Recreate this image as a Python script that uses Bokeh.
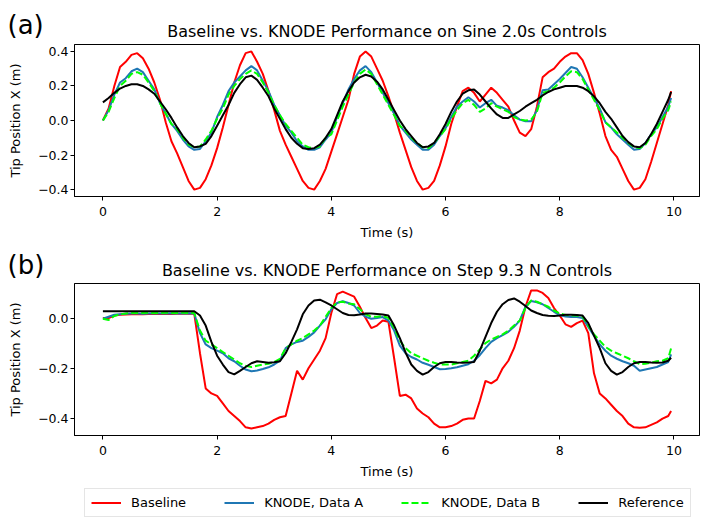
from bokeh.plotting import figure
from bokeh.layouts import column
from bokeh.models import (Range1d, Legend, LegendItem, CustomJSTickFormatter, FixedTicker)
from bokeh.core.properties import value
from bokeh.embed import file_html
from bokeh.resources import INLINE

FONT = "DejaVu Sans"

# ---------------- data ----------------
TIME = [i / 10 for i in range(100)] + [9.95]

TITLE_A = "Baseline vs. KNODE Performance on Sine 2.0s Controls"
TITLE_B = "Baseline vs. KNODE Performance on Step 9.3 N Controls"
SERIES = ["Baseline", "KNODE, Data A", "KNODE, Data B", "Reference"]
X_TICKS = [0, 2, 4, 6, 8, 10]
Y_TICKS_A = [-0.4, -0.2, 0.0, 0.2, 0.4]
Y_TICKS_B = [-0.4, -0.2, 0.0]

sine_baseline = [
    0.00, 0.07, 0.20, 0.31, 0.34, 0.38, 0.39, 0.36, 0.30, 0.22,
    0.12, -0.01, -0.12, -0.19, -0.27, -0.35, -0.40, -0.39, -0.34, -0.26,
    -0.16, -0.04, 0.09, 0.22, 0.32, 0.39, 0.40, 0.34, 0.27, 0.17,
    0.06, -0.06, -0.14, -0.21, -0.28, -0.35, -0.39, -0.40, -0.35, -0.28,
    -0.18, -0.08, 0.02, 0.12, 0.27, 0.37, 0.40, 0.37, 0.30, 0.23,
    0.14, 0.04, -0.07, -0.17, -0.27, -0.35, -0.40, -0.39, -0.35, -0.26,
    -0.15, -0.02, 0.08, 0.17, 0.19, 0.16, 0.11, 0.15, 0.19, 0.16,
    0.12, 0.08, 0.00, -0.07, -0.09, -0.05, 0.08, 0.25, 0.28, 0.30,
    0.34, 0.37, 0.39, 0.39, 0.35, 0.27, 0.16, 0.04, -0.09, -0.17,
    -0.21, -0.28, -0.35, -0.40, -0.39, -0.34, -0.24, -0.13, -0.02, 0.09,
    0.17,
]
sine_knode_a = [
    0.00, 0.06, 0.15, 0.22, 0.245, 0.285, 0.30, 0.28, 0.23, 0.18,
    0.10, 0.04, -0.02, -0.06, -0.11, -0.15, -0.17, -0.165, -0.12, -0.07,
    0.02, 0.09, 0.17, 0.22, 0.255, 0.29, 0.315, 0.29, 0.23, 0.17,
    0.09, 0.03, -0.03, -0.07, -0.12, -0.15, -0.17, -0.17, -0.155, -0.11,
    -0.07, 0.02, 0.10, 0.18, 0.24, 0.29, 0.315, 0.28, 0.22, 0.16,
    0.10, 0.04, -0.03, -0.07, -0.11, -0.14, -0.17, -0.17, -0.14, -0.09,
    -0.045, 0.02, 0.08, 0.11, 0.135, 0.11, 0.075, 0.10, 0.12, 0.085,
    0.075, 0.06, 0.03, 0.005, -0.005, -0.005, 0.06, 0.175, 0.18, 0.21,
    0.24, 0.275, 0.31, 0.30, 0.25, 0.19, 0.13, 0.07, -0.01, -0.04,
    -0.08, -0.11, -0.14, -0.17, -0.165, -0.13, -0.08, -0.04, 0.02, 0.08,
    0.13,
]
sine_knode_b = [
    0.00, 0.05, 0.13, 0.20, 0.23, 0.27, 0.28, 0.265, 0.22, 0.17,
    0.10, 0.04, -0.02, -0.05, -0.10, -0.14, -0.155, -0.15, -0.11, -0.06,
    0.01, 0.07, 0.15, 0.20, 0.24, 0.27, 0.29, 0.27, 0.22, 0.16,
    0.09, 0.03, -0.02, -0.06, -0.10, -0.14, -0.155, -0.16, -0.15, -0.10,
    -0.08, 0.00, 0.08, 0.15, 0.22, 0.27, 0.295, 0.27, 0.21, 0.15,
    0.09, 0.03, -0.03, -0.06, -0.10, -0.13, -0.155, -0.16, -0.13, -0.09,
    -0.05, 0.01, 0.06, 0.10, 0.12, 0.09, 0.05, 0.07, 0.10, 0.08,
    0.065, 0.05, 0.02, 0.005, 0.00, 0.005, 0.05, 0.16, 0.17, 0.19,
    0.22, 0.255, 0.285, 0.28, 0.24, 0.18, 0.12, 0.06, -0.01, -0.04,
    -0.07, -0.10, -0.13, -0.155, -0.16, -0.14, -0.09, -0.05, 0.01, 0.06,
    0.11,
]
sine_reference = [
    0.105, 0.13, 0.16, 0.185, 0.20, 0.21, 0.21, 0.20, 0.18, 0.155,
    0.11, 0.065, 0.015, -0.04, -0.09, -0.13, -0.155, -0.15, -0.135, -0.09,
    -0.03, 0.03, 0.09, 0.16, 0.21, 0.25, 0.26, 0.235, 0.19, 0.14,
    0.07, 0.01, -0.05, -0.10, -0.135, -0.16, -0.165, -0.16, -0.14, -0.10,
    -0.05, 0.03, 0.11, 0.17, 0.22, 0.25, 0.265, 0.255, 0.225, 0.18,
    0.12, 0.06, 0.00, -0.05, -0.09, -0.13, -0.155, -0.15, -0.13, -0.08,
    -0.02, 0.05, 0.11, 0.155, 0.175, 0.18, 0.15, 0.11, 0.07, 0.035,
    0.015, 0.015, 0.035, 0.055, 0.08, 0.10, 0.12, 0.145, 0.165, 0.18,
    0.19, 0.20, 0.20, 0.20, 0.19, 0.17, 0.14, 0.10, 0.05, 0.01,
    -0.04, -0.09, -0.125, -0.15, -0.155, -0.13, -0.08, -0.02, 0.05, 0.12,
    0.165,
]

step_baseline = [
    0.000, 0.000, 0.010, 0.013, 0.014, 0.015, 0.015, 0.015, 0.016, 0.016,
    0.016, 0.016, 0.016, 0.017, 0.017, 0.017, 0.017, -0.14, -0.28, -0.30,
    -0.31, -0.34, -0.37, -0.39, -0.41, -0.435, -0.44, -0.435, -0.43, -0.42,
    -0.405, -0.395, -0.39, -0.30, -0.21, -0.245, -0.20, -0.165, -0.13, -0.08,
    0.02, 0.095, 0.105, 0.095, 0.085, 0.045, 0.00, -0.04, -0.03, -0.01,
    -0.015, -0.16, -0.31, -0.305, -0.32, -0.36, -0.38, -0.395, -0.42, -0.435,
    -0.435, -0.43, -0.42, -0.405, -0.40, -0.40, -0.33, -0.25, -0.26, -0.245,
    -0.20, -0.17, -0.12, -0.05, 0.045, 0.11, 0.11, 0.10, 0.08, 0.04,
    0.01, -0.025, -0.035, -0.02, -0.01, -0.06, -0.22, -0.30, -0.32, -0.345,
    -0.37, -0.39, -0.42, -0.435, -0.437, -0.435, -0.425, -0.415, -0.40, -0.39,
    -0.37,
]
step_knode_a = [
    -0.003, 0.005, 0.013, 0.015, 0.017, 0.018, 0.018, 0.017, 0.018, 0.019,
    0.018, 0.018, 0.019, 0.018, 0.018, 0.019, 0.018, -0.06, -0.105, -0.12,
    -0.13, -0.14, -0.16, -0.172, -0.19, -0.205, -0.212, -0.209, -0.203, -0.196,
    -0.185, -0.17, -0.12, -0.105, -0.095, -0.09, -0.075, -0.057, -0.03, -0.005,
    0.035, 0.06, 0.067, 0.06, 0.05, 0.02, 0.005, -0.003, 0.00, 0.004,
    -0.01, -0.05, -0.11, -0.14, -0.155, -0.165, -0.178, -0.186, -0.195, -0.204,
    -0.203, -0.20, -0.196, -0.19, -0.184, -0.17, -0.148, -0.12, -0.095, -0.08,
    -0.068, -0.055, -0.035, -0.01, 0.045, 0.068, 0.063, 0.055, 0.04, 0.025,
    0.012, 0.006, 0.004, 0.004, 0.00, -0.035, -0.07, -0.105, -0.13, -0.15,
    -0.162, -0.172, -0.18, -0.19, -0.21, -0.205, -0.20, -0.195, -0.185, -0.175,
    -0.145,
]
step_knode_b = [
    -0.003, -0.008, 0.008, 0.015, 0.018, 0.02, 0.02, 0.02, 0.021, 0.02,
    0.02, 0.021, 0.02, 0.02, 0.021, 0.02, 0.02, -0.05, -0.09, -0.105,
    -0.12, -0.135, -0.15, -0.165, -0.18, -0.19, -0.195, -0.19, -0.185, -0.182,
    -0.175, -0.162, -0.12, -0.105, -0.09, -0.08, -0.065, -0.05, -0.03, 0.005,
    0.04, 0.062, 0.065, 0.058, 0.055, 0.035, 0.015, 0.005, 0.005, 0.008,
    0.00, -0.04, -0.09, -0.12, -0.14, -0.15, -0.16, -0.17, -0.178, -0.185,
    -0.185, -0.185, -0.18, -0.175, -0.17, -0.15, -0.125, -0.10, -0.085, -0.075,
    -0.065, -0.05, -0.03, -0.01, 0.04, 0.07, 0.065, 0.055, 0.045, 0.03,
    0.018, 0.012, 0.01, 0.01, 0.005, -0.03, -0.065, -0.09, -0.115, -0.13,
    -0.14, -0.15, -0.16, -0.172, -0.183, -0.182, -0.178, -0.172, -0.17, -0.16,
    -0.12,
]
step_reference = [
    0.027, 0.027, 0.027, 0.027, 0.027, 0.027, 0.027, 0.027, 0.027, 0.027,
    0.027, 0.027, 0.027, 0.027, 0.027, 0.027, 0.027, 0.01, -0.03, -0.095,
    -0.15, -0.185, -0.215, -0.224, -0.21, -0.195, -0.18, -0.172, -0.175, -0.178,
    -0.176, -0.172, -0.14, -0.095, -0.045, 0.015, 0.05, 0.07, 0.073, 0.062,
    0.05, 0.035, 0.02, 0.012, 0.011, 0.014, 0.018, 0.018, 0.016, 0.014,
    0.01, -0.03, -0.08, -0.137, -0.185, -0.21, -0.225, -0.215, -0.195, -0.18,
    -0.175, -0.175, -0.177, -0.178, -0.177, -0.175, -0.13, -0.075, -0.02, 0.025,
    0.055, 0.072, 0.078, 0.065, 0.048, 0.03, 0.02, 0.012, 0.009, 0.008,
    0.01, 0.013, 0.013, 0.012, 0.01, -0.02, -0.07, -0.12, -0.18, -0.21,
    -0.225, -0.215, -0.195, -0.18, -0.175, -0.175, -0.177, -0.178, -0.177, -0.17,
    -0.158,
]

COLORS = ["#ff0000", "#1f77b4", "#00ff00", "#000000"]
DASHES = ["solid", "solid", "7 3", "solid"]

# ---------------- layout ----------------
W = 700
FRAME_L, FRAME_R = 74, 699
FRAME_H = 152

yfmt_code = """
const s = Math.abs(tick).toFixed(1);
return (tick < -1e-9 ? "\\u2212" : "") + s;
"""


def padded(vals):
    lo, hi = min(vals), max(vals)
    pad = 0.05 * (hi - lo)
    return lo - pad, hi + pad


def blank(height):
    p = figure(width=W, height=height, output_backend="svg", toolbar_location=None,
               title=None, x_range=Range1d(0, W), y_range=Range1d(height, 0),
               x_axis_type=None, y_axis_type=None, min_border=0,
               min_border_left=0, min_border_right=0, min_border_top=0, min_border_bottom=0)
    p.frame_align = False
    p.outline_line_color = None
    p.grid.visible = False
    return p


def header(height, tag, tag_y, title, title_y):
    p = blank(height)
    p.text(x=[7], y=[tag_y], text=[tag], text_font=value(FONT),
           text_font_size="26px", text_align="left", text_baseline="alphabetic",
           text_color="black")
    p.text(x=[(FRAME_L + FRAME_R) / 2], y=[title_y], text=[title],
           text_font=value(FONT), text_font_size="16px", text_align="center",
           text_baseline="alphabetic", text_color="black")
    return p


def panel(series, yticks, height, top):
    allv = [v for s in series for v in s]
    x0, x1 = padded(TIME)
    y0, y1 = padded(allv)
    p = figure(width=W, height=height, output_backend="svg", toolbar_location=None,
               x_range=Range1d(x0, x1), y_range=Range1d(y0, y1),
               min_border_left=FRAME_L, min_border_right=W - FRAME_R,
               min_border_top=top, min_border_bottom=height - top - FRAME_H)
    p.frame_align = False
    p.grid.visible = False
    p.outline_line_color = "black"
    p.outline_line_width = 1
    p.outline_line_alpha = 1
    for ax in (p.xaxis[0], p.yaxis[0]):
        ax.axis_line_color = "black"
        ax.major_tick_line_color = "black"
        ax.major_tick_in = 0
        ax.major_tick_out = 4
        ax.minor_tick_line_color = None
        ax.major_label_text_font = FONT
        ax.major_label_text_font_size = "12.5px"
        ax.major_label_text_color = "black"
        ax.axis_label_text_font = FONT
        ax.axis_label_text_font_size = "13px"
        ax.axis_label_text_font_style = "normal"
        ax.axis_label_text_color = "black"
    p.xaxis.ticker = FixedTicker(ticks=X_TICKS)
    p.yaxis.ticker = FixedTicker(ticks=yticks)
    p.yaxis.formatter = CustomJSTickFormatter(code=yfmt_code)
    p.xaxis.axis_label = "Time (s)"
    p.yaxis.axis_label = "Tip Position X (m)"
    p.xaxis.major_label_standoff = 6
    p.xaxis.axis_label_standoff = 6
    p.yaxis.major_label_standoff = 2
    p.yaxis.axis_label_standoff = 12
    for vals, col, dash in zip(series, COLORS, DASHES):
        p.line(TIME, vals, line_color=col, line_width=2, line_dash=dash)
    return p


hA = header(40, "(a)", 24, TITLE_A, 30.5)
pA = panel([sine_baseline, sine_knode_a, sine_knode_b, sine_reference], Y_TICKS_A, 205, 4)
hB = header(37, "(b)", 19, TITLE_B, 24.5)
pB = panel([step_baseline, step_knode_a, step_knode_b, step_reference], Y_TICKS_B, 202, 1)

# legend strip: sample renderers carry only the style (one empty point each)
NAN = float("nan")
pL = blank(38)
samples = [pL.line([NAN], [NAN], line_color=c, line_width=2, line_dash=d)
           for c, d in zip(COLORS, DASHES)]
legend = Legend(items=[LegendItem(label=n, renderers=[r]) for n, r in zip(SERIES, samples)],
                orientation="horizontal", location=(84, 5),
                glyph_width=30, glyph_height=15, label_height=15,
                label_standoff=10, spacing=38, padding=6, margin=0,
                label_text_font=FONT, label_text_font_size="13px",
                label_text_color="black",
                border_line_color="#cccccc", border_line_width=1,
                background_fill_color="white", background_fill_alpha=1)
pL.add_layout(legend)

layout = column(hA, pA, hB, pB, pL, spacing=0)
open("out.html", "w").write(file_html(layout, INLINE))
